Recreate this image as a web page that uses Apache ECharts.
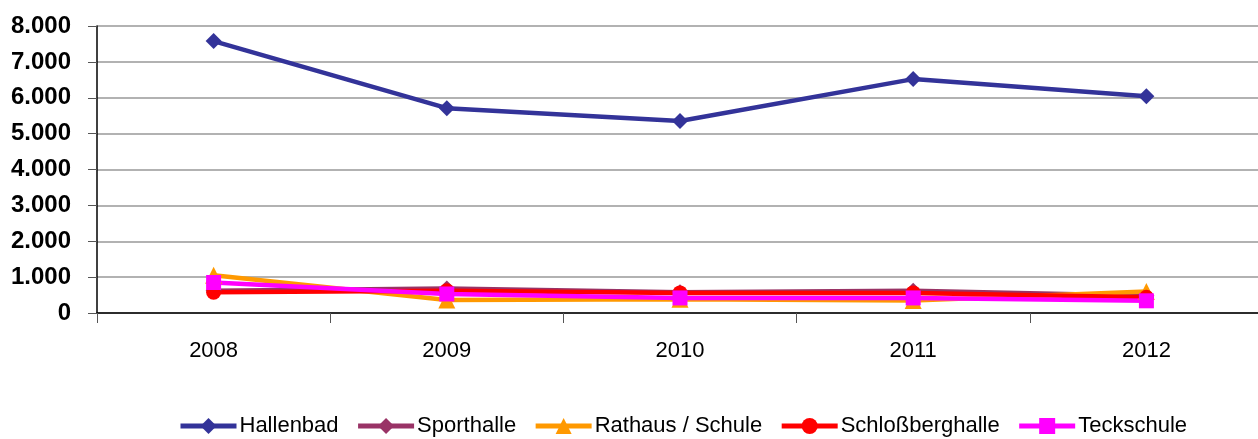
<!DOCTYPE html>
<html>
<head>
<meta charset="utf-8">
<script src="https://cdn.jsdelivr.net/npm/echarts@6/dist/echarts.min.js"></script>
<style>
	html, body { margin: 0; padding: 0; background: #fff; overflow: hidden; }
	/* a little wider than the window so the last category band runs past the right edge */
	#chart { width: 1264px; height: 439px; }
</style>
</head>
<body>
<div id="chart"></div>
<script>
var years = ['2008', '2009', '2010', '2011', '2012'];

var hallenbad = [7580, 5710, 5350, 6520, 6040];
var sporthalle = [620, 680, 580, 620, 480];
var rathaus = [1050, 360, 380, 350, 600];
var schlossberghalle = [580, 620, 560, 560, 440];
var teckschule = [850, 530, 420, 420, 340];

var yTicks = [0, 1000, 2000, 3000, 4000, 5000, 6000, 7000, 8000];

var font = '"Liberation Sans", Arial, sans-serif';

// 8000 -> "8.000"
function fmt(v) {
	if (v === 0) return '0';
	return (v / 1000).toFixed(3);
}

function line(name, data, color, symbol, size) {
	return {
		name: name,
		type: 'line',
		data: data,
		symbol: symbol,
		symbolSize: size,
		lineStyle: { color: color, width: 4.5 },
		itemStyle: { color: color },
		animation: false
	};
}

var myChart = echarts.init(document.getElementById('chart'));

var option = {
	backgroundColor: '#fff',
	grid: {
		left: 97,
		right: 1,
		top: 26,
		bottom: 126
	},
	legend: {
		bottom: -3,
		left: 173,
		width: 1075,
		itemWidth: 56,
		itemHeight: 20,
		itemGap: 17,
		lineStyle: { width: 5 },
		textStyle: { fontFamily: font, fontSize: 22, color: '#000', padding: [0, 0, 0, -2] },
		data: ['Hallenbad', 'Sporthalle', 'Rathaus / Schule', 'Schloßberghalle', 'Teckschule']
	},
	xAxis: {
		type: 'category',
		data: years,
		boundaryGap: true,
		axisLine: { lineStyle: { color: '#000', width: 1.5 } },
		axisTick: { show: true, length: 10, lineStyle: { color: '#555' } },
		axisLabel: { fontFamily: font, fontSize: 22, color: '#000', margin: 27 },
		splitLine: { show: false }
	},
	yAxis: {
		type: 'value',
		min: yTicks[0],
		max: yTicks[yTicks.length - 1],
		interval: 1000,
		axisLine: { show: true, lineStyle: { color: '#000', width: 1.5 } },
		axisTick: { show: true, length: 9, lineStyle: { color: '#555' } },
		axisLabel: {
			fontFamily: font, fontSize: 24, fontWeight: 'bold', color: '#000', margin: 26,
			formatter: fmt
		},
		splitLine: { show: true, lineStyle: { color: '#999', width: 1.5 } }
	},
	series: [
		line('Hallenbad', hallenbad, '#333399', 'diamond', 16),
		line('Sporthalle', sporthalle, '#993366', 'diamond', 16),
		line('Rathaus / Schule', rathaus, '#FF9900', 'triangle', 17),
		line('Schloßberghalle', schlossberghalle, '#FF0000', 'circle', 15),
		line('Teckschule', teckschule, '#FF00FF', 'rect', 15),
	]
};

myChart.setOption(option, true);
</script>
</body>
</html>
